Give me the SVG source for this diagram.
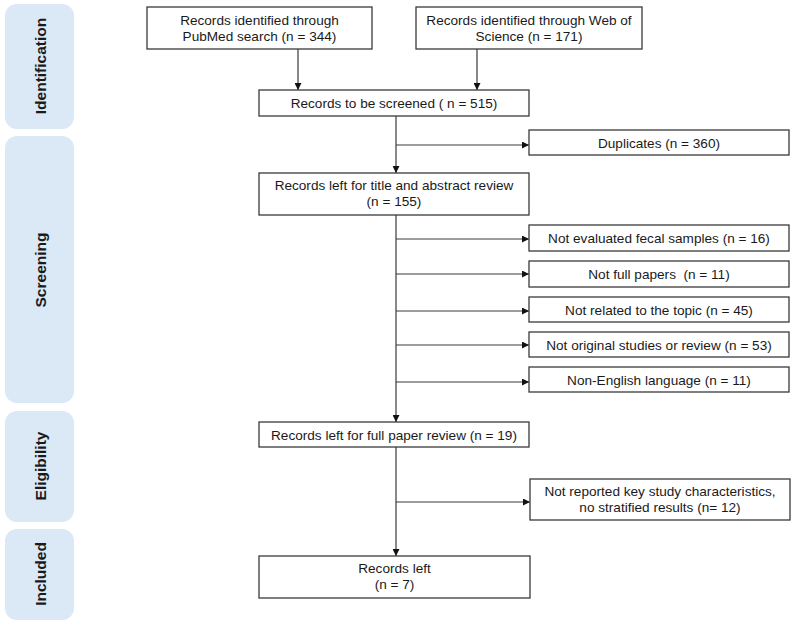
<svg xmlns="http://www.w3.org/2000/svg" width="795" height="625" viewBox="0 0 795 625">
<style>
.box{fill:#fff;stroke:#3a3a3a;stroke-width:1.3}
.stage{fill:#dbe8f5}
.t{font-family:"Liberation Sans",Arial,sans-serif;font-size:13.6px;fill:#1a1a1a;text-anchor:middle}
.st{font-family:"Liberation Sans",Arial,sans-serif;font-size:15.5px;font-weight:bold;fill:#1a1a1a;text-anchor:middle}
.ln{stroke:#3a3a3a;stroke-width:1.2;fill:none;marker-end:url(#ah)}
</style>
<defs>
<marker id="ah" viewBox="0 0 10 10" refX="10" refY="5" markerWidth="7" markerHeight="7" markerUnits="userSpaceOnUse" orient="auto">
<path d="M0,0 L10,5 L0,10 z" fill="#111"/>
</marker>
</defs>
<rect width="795" height="625" fill="#fff"/>
<g id="stage-identification"><rect class="stage" x="5" y="4" width="69" height="125" rx="12"/><text class="st" transform="translate(46,66) rotate(-90)">Identification</text></g>
<g id="stage-screening"><rect class="stage" x="5" y="136" width="69" height="267" rx="12"/><text class="st" transform="translate(46,270) rotate(-90)">Screening</text></g>
<g id="stage-eligibility"><rect class="stage" x="5" y="411" width="69" height="111" rx="12"/><text class="st" transform="translate(46,466) rotate(-90)">Eligibility</text></g>
<g id="stage-included"><rect class="stage" x="5" y="529" width="69" height="91" rx="12"/><text class="st" transform="translate(46,574) rotate(-90)">Included</text></g>

<g id="connectors">
<line class="ln" x1="298" y1="49" x2="298" y2="90"/>
<line class="ln" x1="477" y1="49" x2="477" y2="90"/>
<line class="ln" x1="396" y1="116" x2="396" y2="173"/>
<line class="ln" x1="396" y1="145" x2="529" y2="145"/>
<line class="ln" x1="396" y1="215" x2="396" y2="422"/>
<line class="ln" x1="396" y1="239" x2="529" y2="239"/>
<line class="ln" x1="396" y1="274" x2="529" y2="274"/>
<line class="ln" x1="396" y1="311" x2="529" y2="311"/>
<line class="ln" x1="396" y1="345" x2="529" y2="345"/>
<line class="ln" x1="396" y1="382" x2="529" y2="382"/>
<line class="ln" x1="396" y1="447" x2="396" y2="556"/>
<line class="ln" x1="396" y1="502" x2="530" y2="502"/>
</g>

<g id="pubmed"><rect class="box" x="147" y="7" width="225" height="42"/><text class="t" x="259.5" y="25">Records identified through</text><text class="t" x="259.5" y="41">PubMed search (n = 344)</text></g>
<g id="wos"><rect class="box" x="416" y="7" width="226" height="42"/><text class="t" x="529" y="25">Records identified through Web of</text><text class="t" x="529" y="41">Science (n = 171)</text></g>
<g id="screened"><rect class="box" x="259" y="90" width="270" height="26"/><text class="t" x="394" y="108">Records to be screened ( n = 515)</text></g>
<g id="duplicates"><rect class="box" x="529" y="130" width="260" height="25"/><text class="t" x="659" y="147.5">Duplicates (n = 360)</text></g>
<g id="title-abstract"><rect class="box" x="259" y="173" width="270" height="42"/><text class="t" x="394" y="190">Records left for title and abstract review</text><text class="t" x="394" y="206">(n = 155)</text></g>
<g id="fecal"><rect class="box" x="529" y="225" width="260" height="26"/><text class="t" x="659" y="243">Not evaluated fecal samples (n = 16)</text></g>
<g id="full-papers"><rect class="box" x="529" y="261" width="260" height="26"/><text class="t" x="659" y="279" xml:space="preserve">Not full papers  (n = 11)</text></g>
<g id="topic"><rect class="box" x="529" y="297" width="260" height="25"/><text class="t" x="659" y="314.5">Not related to the topic (n = 45)</text></g>
<g id="original"><rect class="box" x="529" y="332" width="260" height="25"/><text class="t" x="659" y="349.5">Not original studies or review (n = 53)</text></g>
<g id="non-english"><rect class="box" x="529" y="367" width="260" height="25"/><text class="t" x="659" y="384.5">Non-English language (n = 11)</text></g>
<g id="full-review"><rect class="box" x="259" y="422" width="270" height="25"/><text class="t" x="394" y="439.5">Records left for full paper review (n = 19)</text></g>
<g id="not-reported"><rect class="box" x="530" y="479" width="260" height="41"/><text class="t" x="660" y="496">Not reported key study characteristics,</text><text class="t" x="660" y="512">no stratified results (n= 12)</text></g>
<g id="records-left"><rect class="box" x="259" y="556" width="271" height="42"/><text class="t" x="394.5" y="573">Records left</text><text class="t" x="394.5" y="589">(n = 7)</text></g>
</svg>
